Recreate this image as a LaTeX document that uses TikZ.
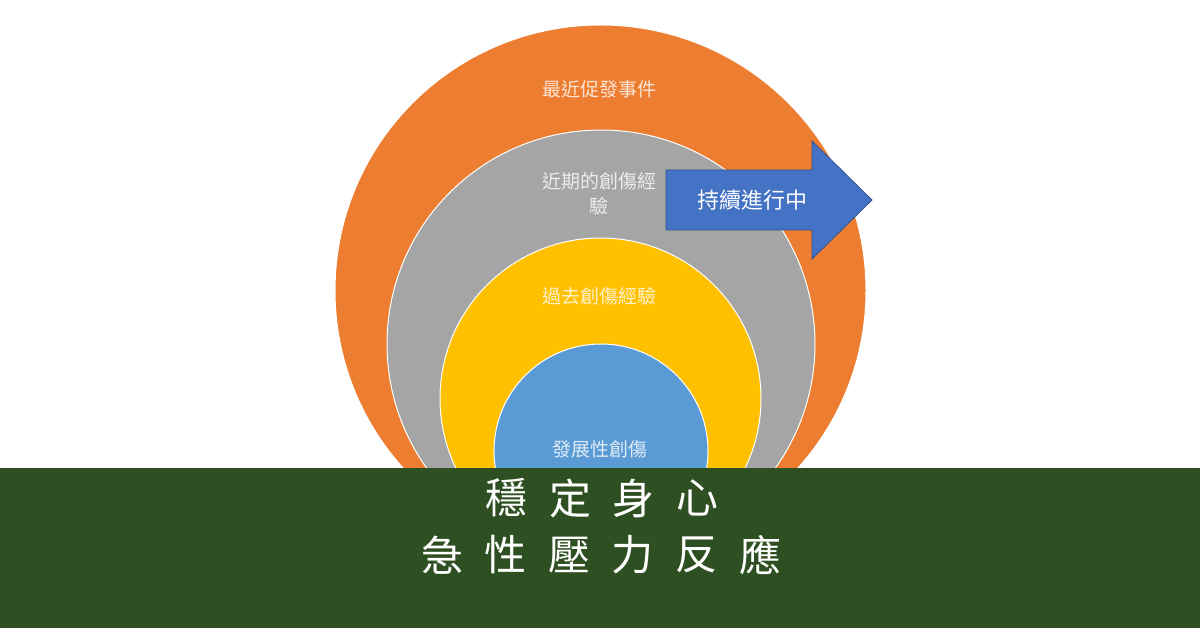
\documentclass[tikz,border=0pt]{standalone}
\usepackage{fontspec}
\setmainfont{Noto Sans CJK TC}
\usepackage{xcolor}
\definecolor{ringorange}{HTML}{ED7D31}
\definecolor{ringgray}{HTML}{A5A5A5}
\definecolor{ringyellow}{HTML}{FFC000}
\definecolor{ringblue}{HTML}{5B9BD5}
\definecolor{arrowblue}{HTML}{4472C4}
\definecolor{arrowedge}{HTML}{2F528F}
\definecolor{bandgreen}{HTML}{2E4F21}

\begin{document}
\begin{tikzpicture}[
  x=1pt,
  y=-1pt,
  ring/.style={draw=white, line width=1pt},
  ringlabel/.style={text=white, text opacity=0.8, inner sep=0pt, align=center,
    font=\fontsize{19}{25}\selectfont},
  bandchar/.style={text=white, inner sep=0pt, font=\fontsize{42}{42}\selectfont}
]
  \useasboundingbox (0,0) rectangle (1200,628);
  \fill[white] (0,0) rectangle (1200,628);

  % Rings, outermost first
  \path[ring, fill=ringorange] (600.5,290.5) circle (265.5);
  \path[ring, fill=ringgray]   (601,344) circle (214);
  \path[ring, fill=ringyellow] (600.5,398.5) circle (160.5);
  \path[ring, fill=ringblue]   (601,451) circle (107);

  \node[ringlabel] (recent)  at (599,89)  {最近促發事件};
  \node[ringlabel] (nearby)  at (599,194) {近期的創傷經\\驗};
  \node[ringlabel] (past)    at (599,296) {過去創傷經驗};
  \node[ringlabel] (develop) at (600,449) {發展性創傷};

  % Arrow: ongoing
  \draw[arrowedge, fill=arrowblue, line width=0.8pt]
    (666,170) -- (812,170) -- (812,141) -- (872,200)
    -- (812,259) -- (812,230) -- (666,230) -- cycle;
  \node[text=white, inner sep=0pt, font=\fontsize{22}{22}\selectfont]
    (ongoing) at (752,200) {持續進行中};

  % Bottom band
  \fill[bandgreen] (0,468) rectangle (1200,628);
  \foreach \ch [count=\i] in {穩,定,身,心}
    \node[bandchar] (upper\i) at ({602+(\i-2.5)*63.5},498) {\ch};
  \foreach \ch [count=\i] in {急,性,壓,力,反,應}
    \node[bandchar] (lower\i) at ({601+(\i-3.5)*63.6},555) {\ch};
\end{tikzpicture}
\end{document}
